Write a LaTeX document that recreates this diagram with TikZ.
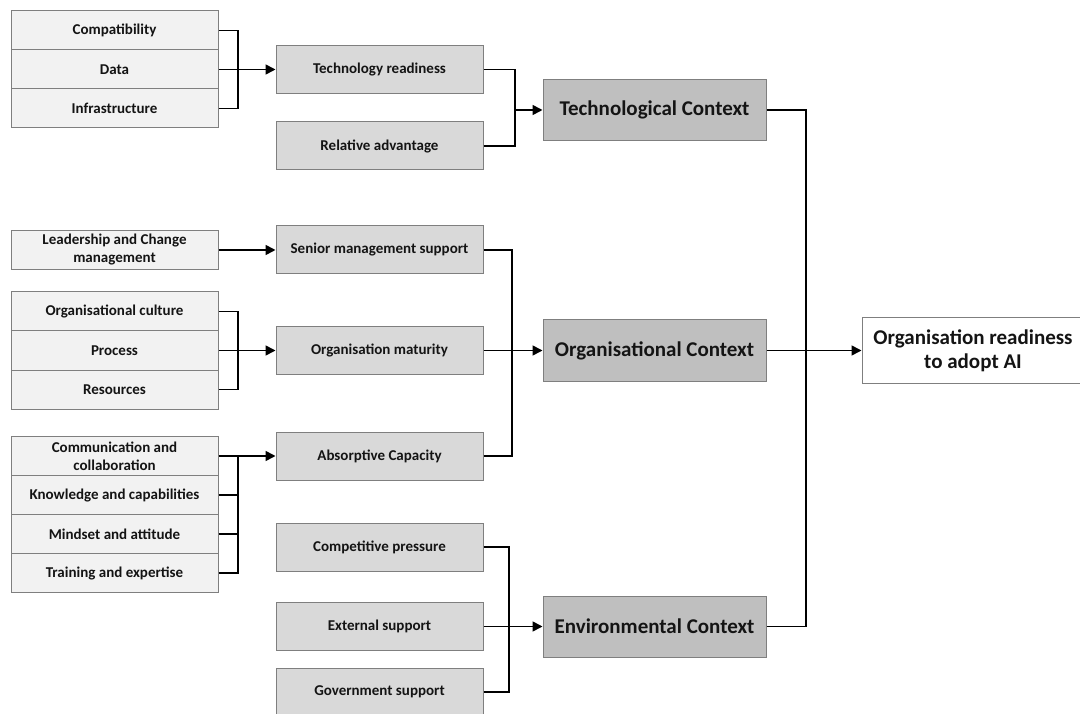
\documentclass[tikz,border=0pt]{standalone}
\usepackage{fontspec}
\setmainfont{Carlito}
\usetikzlibrary{arrows.meta}
\definecolor{leaffill}{HTML}{F2F2F2}
\definecolor{midfill}{HTML}{D9D9D9}
\definecolor{ctxfill}{HTML}{BFBFBF}
\definecolor{edgegray}{HTML}{7F7F7F}
\definecolor{ink}{HTML}{141414}
\begin{document}
\begin{tikzpicture}[x=1pt,y=-1pt,
  box/.style={draw=edgegray, line width=1pt, rectangle, inner sep=1pt, align=center,
    text=ink, font=\bfseries\fontsize{15}{18}\selectfont},
  leaf/.style={box, fill=leaffill, minimum width=207pt, minimum height=39pt},
  mid/.style={box, fill=midfill, minimum width=207pt, minimum height=48pt},
  ctx/.style={box, fill=ctxfill, minimum width=223pt, minimum height=61pt,
    font=\bfseries\fontsize{21}{24}\selectfont},
  goal/.style={box, fill=white, minimum width=222pt, minimum height=66pt,
    font=\bfseries\fontsize{21}{24}\selectfont},
  wire/.style={line width=1.7pt, black},
  arr/.style={wire, -{Triangle[length=10pt,width=10pt]}}]
\useasboundingbox (0,0) rectangle (1080,714);
\begin{scope}
\clip (0,0) rectangle (1080,714);

% --- technological branch ---
\node[leaf] (compat) at (114.5,30.5) {Compatibility};
\node[leaf] (data)   at (114.5,69.5) {Data};
\node[leaf] (infra)  at (114.5,108.5) {Infrastructure};
\node[mid] (techr) at (379.5,69.5) {Technology readiness};
\node[mid] (relad) at (379.5,146) {Relative advantage};
\node[ctx] (techc) at (654.5,110) {Technological Context};

% --- organisational branch ---
\node[leaf] (lead) at (114.5,250) {Leadership and Change\\management};
\node[mid] (senior) at (379.5,250) {Senior management support};
\node[leaf] (cult) at (114.5,311.5) {Organisational culture};
\node[leaf] (proc) at (114.5,350.5) {Process};
\node[leaf] (reso) at (114.5,389.5) {Resources};
\node[mid] (matur) at (379.5,350.5) {Organisation maturity};
\node[leaf] (comm) at (114.5,456)  {Communication and\\collaboration};
\node[leaf] (know) at (114.5,495)  {Knowledge and capabilities};
\node[leaf] (mind) at (114.5,534)  {Mindset and attitude};
\node[leaf] (train) at (114.5,573) {Training and expertise};
\node[mid] (absor) at (379.5,456) {Absorptive Capacity};
\node[ctx] (orgc) at (654.5,350.5) {Organisational Context};

% --- environmental branch ---
\node[mid] (comp) at (379.5,547) {Competitive pressure};
\node[mid] (ext)  at (379.5,626.5) {External support};
\node[mid] (gov)  at (379.5,692) {Government support};
\node[ctx] (envc) at (654.5,626.5) {Environmental Context};

% --- outcome ---
\node[goal] (ready) at (973,350.5) {Organisation readiness\\to adopt AI};

% junction points of the bracket connectors
\coordinate (jA) at (238,69.5);
\coordinate (jB) at (515,110);
\coordinate (jC) at (238,350.5);
\coordinate (jD) at (512,350.5);
\coordinate (jE) at (238,456);
\coordinate (jF) at (509,626.5);
\coordinate (jG) at (806,350.5);

% factors into technology readiness
\draw[wire] (compat.east) -| (jA);
\draw[wire] (infra.east) -| (jA);
\draw[arr] (data.east) -- (techr.west);
% into technological context
\draw[wire] (techr.east) -| (jB);
\draw[wire] (relad.east) -| (jB);
\draw[arr] (jB) -- (techc.west);

% into senior management support
\draw[arr] (lead.east) -- (senior.west);
% into organisation maturity
\draw[wire] (cult.east) -| (jC);
\draw[wire] (reso.east) -| (jC);
\draw[arr] (proc.east) -- (matur.west);
% into absorptive capacity
\draw[wire] (train.east) -| (jE);
\draw[wire] (know.east) -- (know.east -| jE);
\draw[wire] (mind.east) -- (mind.east -| jE);
\draw[arr] (comm.east) -- (absor.west);
% into organisational context
\draw[wire] (senior.east) -| (jD);
\draw[wire] (absor.east) -| (jD);
\draw[arr] (matur.east) -- (orgc.west);

% into environmental context
\draw[wire] (comp.east) -| (jF);
\draw[wire] (gov.east) -| (jF);
\draw[arr] (ext.east) -- (envc.west);

% three contexts into readiness
\draw[wire] (techc.east) -| (jG);
\draw[wire] (envc.east) -| (jG);
\draw[arr] (orgc.east) -- (ready.west);
\end{scope}
\end{tikzpicture}
\end{document}
